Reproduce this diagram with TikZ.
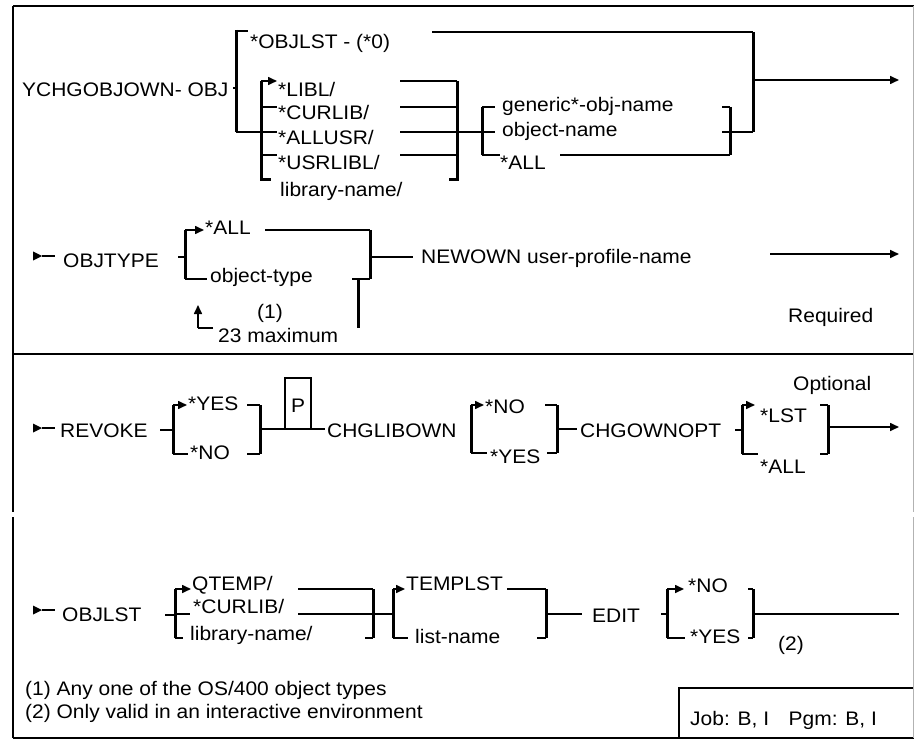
\documentclass[tikz,border=0pt]{standalone}
\usepackage{fontspec}
\setmainfont{Liberation Sans}[FakeStretch=1.07]
\usetikzlibrary{arrows.meta}
\tikzset{
  txt/.style={anchor=base west, inner sep=0pt},
  rail/.style={line width=1.6pt},
  brk/.style={line width=3pt},
  frm/.style={line width=2.4pt},
  tip/.style={rail, -{Triangle[length=9pt,width=8pt]}},
}
\begin{document}
\begin{tikzpicture}[x=1pt,y=-1pt,font=\fontsize{19.6}{23}\selectfont]
\useasboundingbox (0,0) rectangle (914,741);
\draw[frm] (13,6) -- (914,6);
\draw[frm] (13,6) -- (13,512) (13,517) -- (13,738);
\draw[frm] (13,738) -- (914,738);
\draw[frm] (13,354) -- (913,354);
\draw[gray!60, line width=1pt] (913,6) -- (913,512) (913,517) -- (913,738);
\draw[frm] (679,738) -- (679,688) -- (913,688);

\node[txt] (cmd) at (22,97) {YCHGOBJOWN- OBJ};
\node[txt] (objlst) at (250,49) {*OBJLST - (*0)};
\node[txt] (libl) at (278,97) {*LIBL/};
\node[txt] (curlib) at (278,120) {*CURLIB/};
\node[txt] (allusr) at (278,145) {*ALLUSR/};
\node[txt] (usrlibl) at (278,170) {*USRLIBL/};
\node[txt] (libname) at (280,197) {library-name/};
\node[txt] (generic) at (502,112) {generic*-obj-name};
\node[txt] (objname) at (502,137) {object-name};
\node[txt] (objall) at (500,170) {*ALL};
\draw[rail] (233,88) -- (236,88);
\draw[brk] (236,30) -- (236,132);
\draw[rail] (236,31) -- (248,31);
\draw[rail] (236,132) -- (277,132);
\draw[rail] (432,32) -- (753,32);
\draw[brk] (753,32) -- (753,132);
\draw[tip] (753,80) -- (899,80);
\draw[brk] (261,81) -- (261,180) -- (271,180);
\draw[tip] (261,81) -- (277,81);
\foreach \y in {107,155} \draw[rail] (261,\y) -- (277,\y);
\foreach \y in {81,107,132,155} \draw[rail] (400,\y) -- (457,\y);
\draw[brk] (449,180) -- (457,180) -- (457,81);
\draw[rail] (457,132) -- (482,132);
\draw[brk] (482,107) -- (482,155);
\foreach \y/\e in {107/495,132/495,155/500} \draw[rail] (482,\y) -- (\e,\y);
\draw[rail] (560,155) -- (730,155);
\draw[brk] (730,107) -- (730,155);
\draw[rail] (722,107) -- (730,107);
\draw[rail] (722,132) -- (753,132);

\node[txt] (objtype) at (63,268) {OBJTYPE};
\node[txt] (typeall) at (205,235) {*ALL};
\node[txt] (typename) at (210,283) {object-type};
\node[txt] (note1) at (257,318) {(1)};
\node[txt] (maxnum) at (218,342) {23 maximum};
\node[txt] (newown) at (421,263) {NEWOWN user-profile-name};
\node[txt] (req) at (788,322) {Required};
\draw[rail] (178,257) -- (185,257);
\draw[brk] (185,230) -- (185,279);
\draw[tip] (185,230) -- (204,230);
\draw[rail] (185,279) -- (207,279);
\draw[rail] (265,230) -- (370,230);
\draw[brk] (370,230) -- (370,279);
\draw[rail] (352,279) -- (370,279);
\draw[rail] (370,257) -- (413,257);
\draw[brk] (358,279) -- (358,328);
\draw[rail] (213,328) -- (198,328);
\draw[tip] (198,328) -- (198,305);
\draw[tip] (770,254) -- (899,254);

\node[txt] (revoke) at (60,437) {REVOKE};
\node[txt] (revyes) at (188,410) {*YES};
\node[txt] (revno) at (190,459) {*NO};
\node[inner sep=0pt, anchor=base] (pmark) at (298,412) {P};
\node[txt] (chglib) at (327,437) {CHGLIBOWN};
\node[txt] (libno) at (485,413) {*NO};
\node[txt] (libyes) at (490,463) {*YES};
\node[txt] (chgopt) at (580,437) {CHGOWNOPT};
\node[txt] (optlst) at (760,422) {*LST};
\node[txt] (optall) at (760,473) {*ALL};
\node[txt] (optional) at (793,390) {Optional};
\draw[rail] (160,430) -- (173,430);
\draw[brk] (173,405) -- (173,454);
\draw[tip] (173,405) -- (187,405);
\draw[rail] (173,454) -- (188,454);
\foreach \y in {405,454} \draw[rail] (247,\y) -- (260,\y);
\draw[brk] (260,405) -- (260,454);
\draw[rail] (260,429) -- (325,429);
\draw[line width=2.2pt] (285,429) -- (285,378) -- (311,378) -- (311,429);
\draw[brk] (471,405) -- (471,453);
\draw[tip] (471,405) -- (484,405);
\draw[rail] (471,453) -- (487,453);
\draw[rail] (545,405) -- (557,405);
\draw[rail] (547,453) -- (557,453);
\draw[brk] (557,405) -- (557,453);
\draw[rail] (557,429) -- (577,429);
\draw[rail] (735,430) -- (742,430);
\draw[brk] (742,405) -- (742,454);
\draw[tip] (742,405) -- (755,405);
\draw[rail] (742,454) -- (758,454);
\foreach \y in {405,454} \draw[rail] (820,\y) -- (828,\y);
\draw[brk] (828,405) -- (828,454);
\draw[tip] (828,427) -- (899,427);

\node[txt] (lstkw) at (62,621) {OBJLST};
\node[txt] (qtemp) at (192,590) {QTEMP/};
\node[txt] (lstcur) at (193,613) {*CURLIB/};
\node[txt] (lstlib) at (190,640) {library-name/};
\node[txt] (templst) at (406,590) {TEMPLST};
\node[txt] (listname) at (415,643) {list-name};
\node[txt] (edit) at (592,622) {EDIT};
\node[txt] (editno) at (688,592) {*NO};
\node[txt] (edityes) at (690,643) {*YES};
\node[txt] (note2) at (778,650) {(2)};
\draw[rail] (165,615) -- (175,615);
\draw[brk] (175,589) -- (175,638);
\draw[tip] (175,589) -- (191,589);
\draw[rail] (175,614) -- (190,614);
\draw[rail] (175,638) -- (183,638);
\foreach \y in {589,614} \draw[rail] (298,\y) -- (373,\y);
\draw[brk] (373,589) -- (373,638);
\draw[rail] (365,638) -- (373,638);
\draw[rail] (373,614) -- (393,614);
\draw[brk] (393,589) -- (393,638);
\draw[tip] (393,589) -- (405,589);
\draw[rail] (393,638) -- (408,638);
\draw[rail] (507,589) -- (546,589);
\draw[rail] (537,638) -- (546,638);
\draw[brk] (546,589) -- (546,638);
\draw[rail] (546,614) -- (582,614);
\draw[rail] (661,614) -- (667,614);
\draw[brk] (667,589) -- (667,638);
\draw[tip] (667,589) -- (684,589);
\draw[rail] (667,638) -- (685,638);
\foreach \y in {589,638} \draw[rail] (748,\y) -- (753,\y);
\draw[brk] (753,589) -- (753,638);
\draw[rail] (753,614) -- (899,614);

\foreach \y in {256,428,610} {\fill (33,\y-4.5) -- (42,\y) -- (33,\y+4.5) -- cycle; \draw[rail] (42,\y) -- (55,\y);}

\node[txt] (foot1) at (25,695) {(1) Any one of the OS/400 object types};
\node[txt] (foot2) at (25,718) {(2) Only valid in an interactive environment};
\node[txt] (job) at (690,725) {Job: B, I\quad Pgm: B, I};
\end{tikzpicture}
\end{document}
